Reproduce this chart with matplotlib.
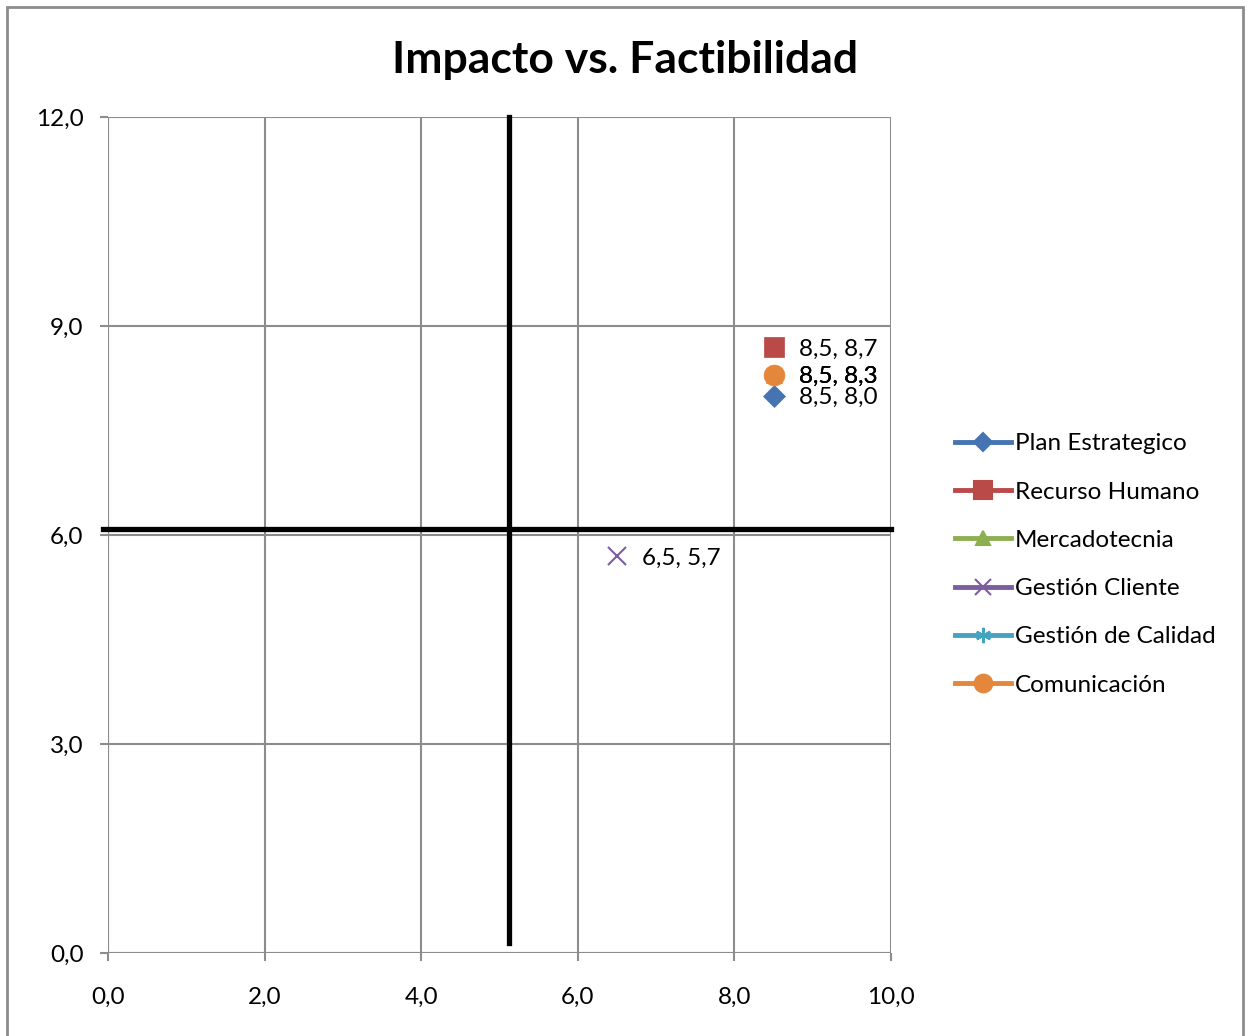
import matplotlib.pyplot as plt
from matplotlib.patches import Rectangle

plt.rcParams['font.family'] = ['Lato', 'DejaVu Sans']

# series: name, (factibilidad, impacto)
series = ['Plan Estrategico', 'Recurso Humano', 'Mercadotecnia',
          'Gestión Cliente', 'Gestión de Calidad', 'Comunicación']
x_vals = [8.5, 8.5, 8.5, 6.5, 8.5, 8.5]
y_vals = [8.0, 8.7, 8.3, 5.7, 8.3, 8.3]
markers = ['D', 's', '^', 'x', (6, 2, 0), 'o']
colors = ['#4674B2', '#B94A48', '#8EAF4F', '#7B5E9E', '#44A4BF', '#E5873A']
msizes = [11, 15, 12, 13, 13, 15]

# quadrant divider lines
cross_x = 5.12
cross_y = 6.09

x_ticks = [0, 2, 4, 6, 8, 10]
y_ticks = [0, 3, 6, 9, 12]


def fmt(v):
    return ('%.1f' % v).replace('.', ',')


fig = plt.figure(figsize=(12.5, 10.36), dpi=100)
ax = fig.add_axes([0.0864, 0.0801, 0.6264, 0.8069])

# chart border
fig.patches.append(Rectangle((7 / 1250, -0.05), 1236 / 1250, 1.05 - 7 / 1036,
                             transform=fig.transFigure, fill=False,
                             edgecolor='#8C8C8C', linewidth=2))

grid_c = '#8C8C8C'
ax.set_xlim(0, 10)
ax.set_ylim(0, 12)
ax.set_xticks(x_ticks)
ax.set_yticks(y_ticks)
ax.set_xticklabels([fmt(v) for v in x_ticks])
ax.set_yticklabels([fmt(v) for v in y_ticks])
ax.grid(True, color=grid_c, linewidth=1.5)
ax.set_axisbelow(True)
for s in ax.spines.values():
    s.set_visible(False)
ax.tick_params(axis='both', length=5.5, width=1.5, color=grid_c, labelsize=17.5,
               labelcolor='black')
ax.tick_params(axis='x', pad=19)
ax.tick_params(axis='y', pad=12)
ax.axvline(0, color=grid_c, linewidth=1.5, zorder=0.5)
ax.axhline(0, color=grid_c, linewidth=1.5, zorder=0.5)

ax.plot([cross_x, cross_x], [0.14, 12], color='black', linewidth=3.8,
        clip_on=False, zorder=2)
ax.plot([-0.06, 10], [cross_y, cross_y], color='black', linewidth=3.8,
        clip_on=False, zorder=2)

for i, name in enumerate(series):
    mk = markers[i]
    filled = mk not in ('x', (6, 2, 0))
    ax.plot(x_vals[i], y_vals[i], linestyle='none', marker=mk,
            markersize=msizes[i], color=colors[i],
            markeredgewidth=1.5 if not filled else 0.5, zorder=3)
    ax.annotate('%s, %s' % (fmt(x_vals[i]), fmt(y_vals[i])),
                (x_vals[i], y_vals[i]), xytext=(25, -2),
                textcoords='offset pixels', va='center', ha='left',
                fontsize=17.5, zorder=4)

# legend entries drawn as line + marker
handles = []
for i, name in enumerate(series):
    h, = ax.plot([], [], color=colors[i], linewidth=3.5, marker=markers[i],
                 markersize=msizes[i] * 0.85, markeredgewidth=1.5, label=name)
    handles.append(h)
leg = fig.legend(handles=handles, loc='center left',
                 bbox_to_anchor=(0.764, 0.4551), frameon=False, fontsize=17.5,
                 handlelength=2.3, handletextpad=0.15, labelspacing=1.12,
                 borderaxespad=0, borderpad=0)

fig.suptitle('Impacto vs. Factibilidad', fontsize=32, fontweight='bold',
             x=0.5, y=0.942, va='center')

fig.savefig('out.png', dpi=100)
